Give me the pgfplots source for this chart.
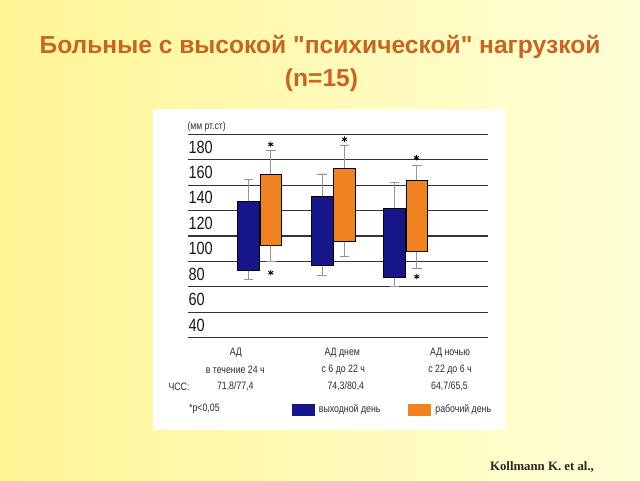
\documentclass[border=0pt]{standalone}
\usepackage{pgfplots}
\pgfplotsset{compat=1.18}
\usepgfplotslibrary{statistics}
\usepackage{fontspec}
\setmainfont{Liberation Sans}
\newfontfamily\titlefont{Liberation Sans}
\newfontfamily\narrow[FakeStretch=0.82]{Liberation Sans}
\newfontfamily\serifb{Liberation Serif}
\definecolor{bgL}{RGB}{255,245,150}
\definecolor{bgR}{RGB}{255,255,215}
\definecolor{cBlue}{RGB}{22,22,138}
\definecolor{cOrange}{RGB}{240,130,32}
\definecolor{cTitle}{RGB}{200,102,32}
\definecolor{cWh}{RGB}{150,150,150}
\definecolor{cTxt}{RGB}{45,45,45}
\begin{document}
\begin{tikzpicture}[x=1pt,y=1pt]
\shade[left color=bgL,right color=bgR] (0pt,0pt) rectangle (640pt,480pt);
\fill[white] (153pt,50pt) rectangle (506pt,371pt);
\node[font=\titlefont\bfseries\fontsize{24.6}{28}\selectfont, text=cTitle] at (320pt,433pt) {Больные с высокой "психической" нагрузкой};
\node[font=\titlefont\bfseries\fontsize{24.6}{28}\selectfont, text=cTitle] at (321.5pt,400pt) {(n=15)};
\begin{axis}[
  at={(188.3pt,142.3pt)}, anchor=south west,
  scale only axis, width=300pt, height=203.4pt,
  xmin=0, xmax=4.11, ymin=30, ymax=190,
  axis line style={draw=none},
  xtick=\empty,
  ytick={40,60,...,180},
  minor ytick={30,50,...,190},
  major tick length=0pt, minor tick length=0pt,
  yminorgrids, minor grid style={draw=black!80, line width=1.25pt},
  yticklabel style={anchor=west, inner sep=0pt, font=\narrow\fontsize{17.7}{18}\selectfont, text=black!90},
  /pgf/number format/assume math mode=true,
  boxplot/draw direction=y,
  boxplot/box extend=0.297,
  boxplot/whisker extend=0.13,
  boxplot/every whisker/.style={draw=cWh, line width=0.6pt},
  boxplot/every median/.style={draw=none},
  clip=false,
  legend columns=2,
  legend style={at={(0.3447,-0.353)}, anchor=west, draw=none, fill=none, inner sep=0pt,
    font=\narrow\fontsize{10.7}{12}\selectfont, text=cTxt,
    /tikz/every odd column/.append style={column sep=3pt},
    /tikz/every even column/.append style={column sep=26pt}},
]
% group 1: AD 24 h
\addplot[forget plot, fill=cBlue, draw=none, boxplot prepared={draw position=0.825, lower whisker=75.6, lower quartile=83.0, median=83.0, upper quartile=137.0, upper whisker=154.3}] coordinates {};
\addplot[forget plot, fill=cOrange, draw=none, boxplot prepared={draw position=1.130, lower whisker=90.3, lower quartile=102.4, median=102.4, upper quartile=158.8, upper whisker=177.4}] coordinates {};
% group 2: day
\addplot[forget plot, fill=cBlue, draw=none, boxplot prepared={draw position=1.834, lower whisker=79.3, lower quartile=87.2, median=87.2, upper quartile=141.5, upper whisker=158.8}] coordinates {};
\addplot[forget plot, fill=cOrange, draw=none, boxplot prepared={draw position=2.140, lower whisker=93.7, lower quartile=106.3, median=106.3, upper quartile=163.2, upper whisker=181.6}] coordinates {};
% group 3: night
\addplot[forget plot, fill=cBlue, draw=none, boxplot prepared={draw position=2.825, lower whisker=70.4, lower quartile=77.7, median=77.7, upper quartile=132.0, upper whisker=152.0}] coordinates {};
\addplot[forget plot, fill=cOrange, draw=none, boxplot prepared={draw position=3.130, lower whisker=84.8, lower quartile=97.7, median=97.7, upper quartile=153.8, upper whisker=165.6}] coordinates {};
% significance asterisks
\addplot[forget plot, only marks, mark=asterisk, mark size=2.8pt, mark options={line width=0.9pt, black}] coordinates {(1.130,182.1) (1.130,81.1) (2.140,186.1) (3.125,171.6) (3.130,78.0)};
\addlegendimage{legend image code/.code={\fill[cBlue] (0pt,-5.5pt) rectangle (21.6pt,5.5pt);}}
\addlegendentry{выходной день}
\addlegendimage{legend image code/.code={\fill[cOrange] (0pt,-5.5pt) rectangle (21.6pt,5.5pt);}}
\addlegendentry{рабочий день}
\end{axis}
\node[anchor=west, inner sep=0pt, font=\narrow\fontsize{10.5}{12}\selectfont, text=cTxt] at (187.3pt,353.3pt) {(мм рт.ст)};
\begin{scope}[every node/.style={font=\narrow\fontsize{10.7}{12}\selectfont, text=cTxt, inner sep=0pt}]
\node at (235.8pt,126.7pt) {АД};
\node at (235.3pt,110pt) {в течение 24 ч};
\node at (342.3pt,126.7pt) {АД днем};
\node at (343.3pt,110pt) {с 6 до 22 ч};
\node at (450pt,126.7pt) {АД ночью};
\node at (450pt,110pt) {с 22 до 6 ч};
\node[anchor=west] at (168.3pt,93.3pt) {ЧСС:};
\node at (235.3pt,93.3pt) {71,8/77,4};
\node at (345.8pt,93.3pt) {74,3/80,4};
\node at (449.5pt,93.3pt) {64,7/65,5};
\node[anchor=west] at (189pt,71pt) {*p<0,05};
\end{scope}
\node[font=\serifb\bfseries\fontsize{12.8}{14}\selectfont, text=black!85] at (542pt,13pt) {Kollmann K. et al.,};
\pgfresetboundingbox
\path[use as bounding box] (0pt,0pt) rectangle (640pt,480pt);
\end{tikzpicture}
\end{document}
